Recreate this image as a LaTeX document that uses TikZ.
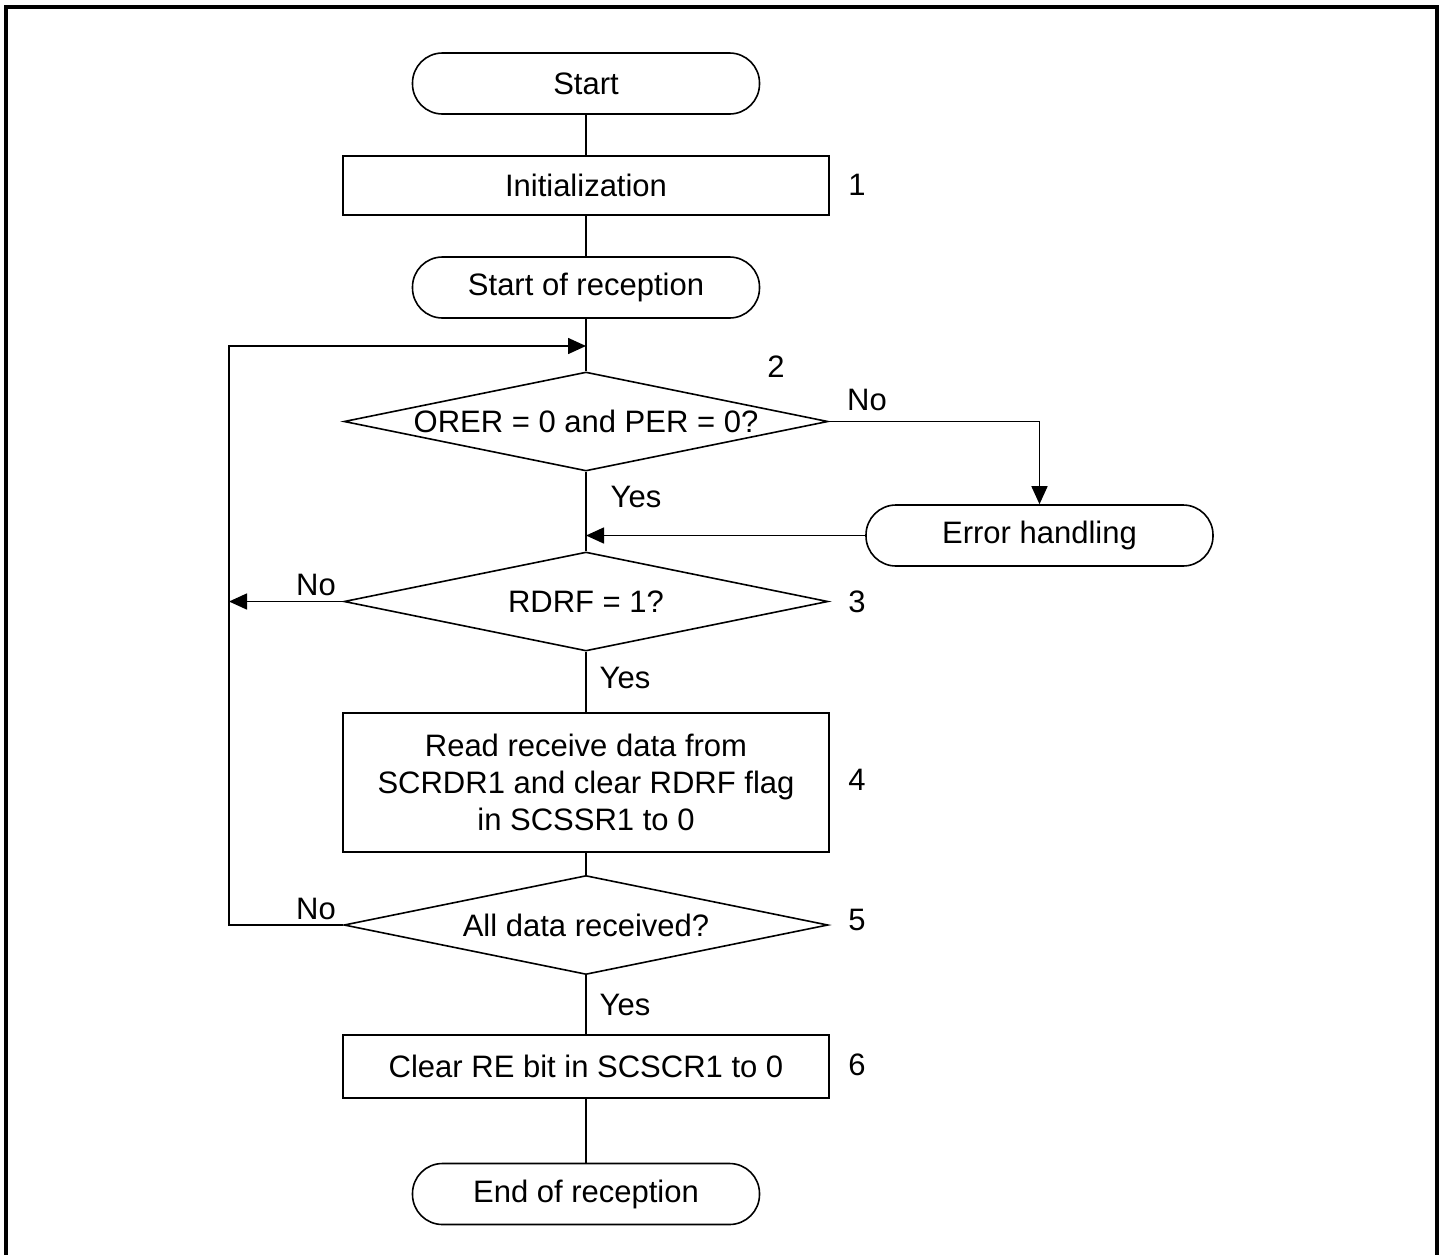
\documentclass[tikz,border=0pt]{standalone}
\usepackage{fontspec}
\setmainfont{Liberation Sans}
\usetikzlibrary{arrows.meta,shapes.geometric}
\begin{document}
\begin{tikzpicture}[x=1pt,y=-1pt,
  every node/.style={font=\fontsize{31}{37}\selectfont, inner sep=0pt},
  line/.style={line width=1.6pt},
  arr/.style={line width=1.6pt, -{Triangle[length=18pt,width=16pt]}},
  term/.style={draw, line width=1.6pt, rounded corners=30pt, minimum width=347pt, minimum height=61pt},
  proc/.style={draw, line width=1.6pt, minimum width=486pt, align=center},
  dec/.style={draw, line width=1.6pt, shape=diamond, minimum width=484pt, minimum height=99pt},
  num/.style={anchor=center}
]
\useasboundingbox (0,0) rectangle (1444,1254);
\draw[line width=4pt] (6,1256) -- (6,7) -- (1437,7) -- (1437,1256);

\node[term] (start) at (586,83.5) {Start};
\node[proc, minimum height=59pt] (init) at (586,185.5) {Initialization};
\node[term] (rec) at (586,287.5) {Start of reception};
\node[dec] (d1) at (586,421.5) {\makebox[0pt]{ORER = 0 and PER = 0?}};
\node[term] (err) at (1039.5,535.5) {Error handling};
\node[dec] (d2) at (586,601.5) {\makebox[0pt]{RDRF = 1?}};
\node[proc, minimum height=139pt] (read) at (586,782.5) {Read receive data from\\SCRDR1 and clear RDRF flag\\in SCSSR1 to 0};
\node[dec] (d3) at (586,925) {\makebox[0pt]{All data received?}};
\node[proc, minimum height=63pt] (clr) at (586,1066.5) {Clear RE bit in SCSCR1 to 0};
\node[term] (end) at (586,1194) {End of reception};

\node[num] (n1) at (857,185) {1};
\node[num] (n2) at (776,367) {2};
\node[num] (n3) at (857,602) {3};
\node[num] (n4) at (857,780) {4};
\node[num] (n5) at (857,920) {5};
\node[num] (n6) at (857,1065) {6};
\node (no1) at (867,400) {No};
\node (yes1) at (636,497) {Yes};
\node (no2) at (316,585) {No};
\node (yes2) at (625,678) {Yes};
\node (no3) at (316,909) {No};
\node (yes3) at (625,1005) {Yes};

\coordinate (jtop) at (586,346);
\coordinate (lt) at (229,346);

\draw[line] (start) -- (init);
\draw[line] (init) -- (rec);
\draw[line] (rec) -- (d1.north);
\draw[line] (d1.south) -- (d2.north);
\draw[line] (d2.south) -- (read);
\draw[line] (read) -- (d3.north);
\draw[line] (d3.south) -- (clr);
\draw[line] (clr) -- (end);

\draw[arr] (d3.west) -| (lt) -- (jtop);
\draw[arr] (d2.west) -- (d2.west -| lt);
\draw[arr] (d1.east) -| (err.north);
\draw[arr] (err.west) -- (d1.south |- err.west);
\end{tikzpicture}
\end{document}
